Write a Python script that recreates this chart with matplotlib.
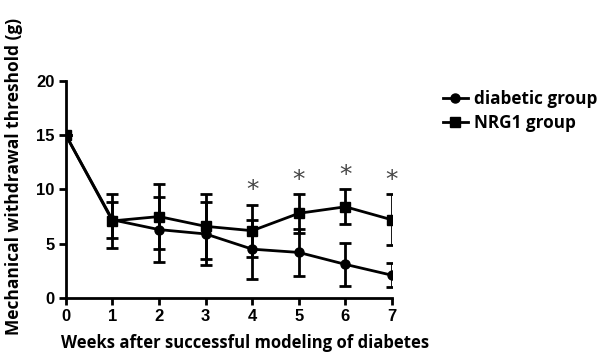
import matplotlib
matplotlib.use("Agg")
import matplotlib.pyplot as plt
from matplotlib.lines import Line2D

weeks = [0, 1, 2, 3, 4, 5, 6, 7]
diabetic = [15.0, 7.2, 6.3, 5.9, 4.5, 4.2, 3.1, 2.1]
diabetic_err = [0.0, 1.65, 3.0, 2.9, 2.7, 2.2, 2.0, 1.1]
nrg1 = [15.0, 7.1, 7.5, 6.6, 6.2, 7.8, 8.4, 7.2]
nrg1_err = [0.0, 2.45, 2.95, 3.0, 2.4, 1.8, 1.6, 2.35]
star_weeks = [4, 5, 6, 7]
yticks = [0, 5, 10, 15, 20]

fig = plt.figure(figsize=(6.04, 3.54), dpi=100)
ax = fig.add_axes([0.109, 0.158, 0.54, 0.614])

tick_font = dict(family=["Liberation Sans", "DejaVu Sans"], fontweight="bold", fontsize=12)

ax.errorbar(weeks, diabetic, yerr=diabetic_err, color="black", marker="o", markersize=6.5,
            linewidth=2, elinewidth=2, capsize=4, capthick=2, zorder=3)
ax.errorbar(weeks, nrg1, yerr=nrg1_err, color="black", marker="s", markersize=6.5,
            linewidth=2, elinewidth=2, capsize=4, capthick=2, zorder=3)

for w in star_weeks:
    i = weeks.index(w)
    ax.text(w, nrg1[i] + nrg1_err[i] + 0.2, "*", ha="center", va="bottom",
            fontsize=18, color="#444444", family="DejaVu Sans")

ax.set_xlim(0, 7)
ax.set_ylim(0, 20)
ax.set_xticks(weeks)
ax.set_yticks(yticks)
ax.set_xticklabels([str(w) for w in weeks], **tick_font)
ax.set_yticklabels([str(v) for v in yticks], **tick_font)
for s in ["top", "right"]:
    ax.spines[s].set_visible(False)
for s in ["left", "bottom"]:
    ax.spines[s].set_linewidth(2)
ax.tick_params(direction="out", length=5, width=2, pad=3)
ax.set_xlabel("Weeks after successful modeling of diabetes",
              family=["Open Sans", "DejaVu Sans"], fontweight="bold", fontsize=12)
ax.set_ylabel("Mechanical withdrawal threshold (g)",
              family=["Open Sans", "DejaVu Sans"], fontweight="bold", fontsize=12.5)
ax.xaxis.set_label_coords(0.55, -0.165)
ax.yaxis.set_label_coords(-0.13, 0.56)

handles = [Line2D([], [], color="black", marker="o", markersize=6.5, linewidth=2),
           Line2D([], [], color="black", marker="s", markersize=6.5, linewidth=2)]
ax.legend(handles, ["diabetic group", "NRG1 group"], loc="upper left",
          bbox_to_anchor=(1.135, 0.99), frameon=False,
          prop=dict(family=["Open Sans", "DejaVu Sans"], weight="bold", size=12.3),
          handlelength=1.45, handletextpad=0.35, labelspacing=0.35, borderaxespad=0)

fig.savefig("out.png", dpi=100)
